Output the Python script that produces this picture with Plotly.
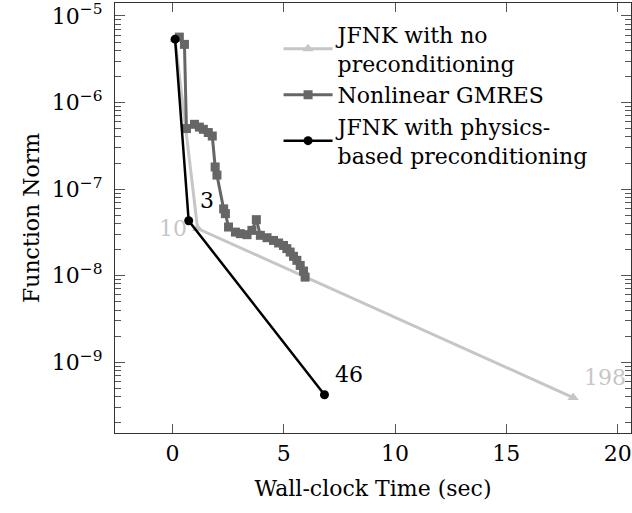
import plotly.graph_objects as go
import math

# ---- data ----
noprec_time = [0.12, 1.13, 18.0]
noprec_norm = [5.4e-6, 3.5e-8, 3.9e-10]
noprec_labels = ["", "10", "198"]

ngmres_time = [0.31, 0.54, 0.63, 0.99, 1.21, 1.39, 1.61, 1.79, 1.92, 2.00, 2.30, 2.38,
               2.52, 2.83, 3.05, 3.35, 3.57, 3.77, 3.95, 4.25, 4.54, 4.77, 4.99, 5.14,
               5.29, 5.44, 5.59, 5.74, 5.89, 5.96]
ngmres_norm = [5.7e-6, 4.7e-6, 5.0e-7, 5.6e-7, 5.2e-7, 4.9e-7, 4.5e-7, 4.1e-7, 1.8e-7, 1.45e-7,
               5.9e-8, 5.2e-8, 3.64e-8, 3.18e-8, 3.05e-8, 2.97e-8, 3.33e-8, 4.43e-8, 2.92e-8,
               2.74e-8, 2.55e-8, 2.38e-8, 2.23e-8, 2.05e-8, 1.87e-8, 1.67e-8, 1.5e-8, 1.31e-8,
               1.13e-8, 9.6e-9]

pbp_time = [0.12, 0.73, 6.83]
pbp_norm = [5.4e-6, 4.3e-8, 4.2e-10]
pbp_labels = ["", "3", "46"]

names = ["JFNK with no<br>preconditioning", "Nonlinear GMRES",
         "JFNK with physics-<br>based preconditioning"]

x_ticks = [0, 5, 10, 15, 20]
y_ticks = [1e-9, 1e-8, 1e-7, 1e-6, 1e-5]
y_ticktext = ["10<sup>−9</sup>\u00a0", "10<sup>−8</sup>\u00a0", "10<sup>−7</sup>\u00a0",
              "10<sup>−6</sup>\u00a0", "10<sup>−5</sup>\u00a0"]
y_minor = [m * 10.0 ** e for e in range(-10, -4) for m in range(2, 10)]

LIGHT = "#c6c6c6"
DARK = "#666666"
BLACK = "#000000"
TICK = "#555555"
FONT = "DejaVu Serif"

fig = go.Figure()
fig.add_trace(go.Scatter(x=noprec_time, y=noprec_norm, name=names[0], mode="lines+markers",
                         line=dict(color=LIGHT, width=3),
                         marker=dict(symbol="triangle-up", size=10, color=LIGHT)))
fig.add_trace(go.Scatter(x=ngmres_time, y=ngmres_norm, name=names[1], mode="lines+markers",
                         line=dict(color=DARK, width=3),
                         marker=dict(symbol="square", size=9, color=DARK)))
fig.add_trace(go.Scatter(x=pbp_time, y=pbp_norm, name=names[2], mode="lines+markers",
                         line=dict(color=BLACK, width=2.5),
                         marker=dict(symbol="circle", size=9, color=BLACK)))

# iteration-count labels
for xs, ys, labs, col in [(noprec_time, noprec_norm, noprec_labels, LIGHT),
                          (pbp_time, pbp_norm, pbp_labels, BLACK)]:
    for i, lab in enumerate(labs):
        if not lab:
            continue
        if col == LIGHT and i == 1:
            fig.add_annotation(x=xs[i], y=math.log10(ys[i]), text=lab, showarrow=False,
                               xanchor="right", yanchor="middle", xshift=-9, yshift=0,
                               font=dict(family=FONT, size=22, color=col))
        else:
            fig.add_annotation(x=xs[i], y=math.log10(ys[i]), text=lab, showarrow=False,
                               xanchor="left", yanchor="bottom", xshift=9, yshift=6,
                               font=dict(family=FONT, size=22, color=col))

fig.update_layout(
    width=632, height=513,
    margin=dict(l=115, r=1, t=3, b=80, autoexpand=False),
    paper_bgcolor="white", plot_bgcolor="white",
    font=dict(family=FONT, size=22, color="black"),
    showlegend=True,
    legend=dict(x=0.317, y=0.975, xanchor="left", yanchor="top", bgcolor="rgba(0,0,0,0)",
                font=dict(family=FONT, size=22), itemwidth=49, tracegroupgap=0),
)
fig.update_xaxes(
    range=[-2.58, 20.6], tickvals=x_ticks, ticks="inside", ticklen=9, tickwidth=1.2,
    tickcolor=TICK,
    showline=True, linecolor="#333333", linewidth=1.3, mirror="allticks", showgrid=False,
    zeroline=False, automargin=False,
    title=dict(text="Wall-clock Time (sec)", standoff=16, font=dict(family=FONT, size=22)),
)
fig.update_yaxes(
    type="log", range=[-9.819, -4.85], tickvals=y_ticks, ticktext=y_ticktext,
    ticks="inside", ticklen=10, tickwidth=1.2, tickcolor=TICK,
    minor=dict(tickmode="array", tickvals=y_minor, ticks="inside", ticklen=6,
               tickwidth=1.1, tickcolor=TICK, showgrid=False),
    showline=True, linecolor="#333333", linewidth=1.3, mirror="allticks", showgrid=False,
    zeroline=False, automargin=False,
    title=dict(text="Function Norm", standoff=6, font=dict(family=FONT, size=22)),
)

fig.write_html("out.html", config={"displayModeBar": False},
               post_script="document.body.style.margin='0';document.body.style.overflow='hidden';")
